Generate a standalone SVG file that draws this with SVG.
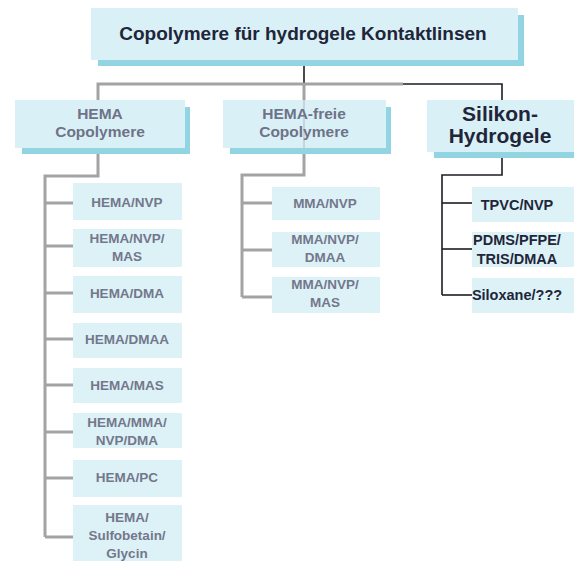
<svg xmlns="http://www.w3.org/2000/svg" width="574" height="561" viewBox="0 0 574 561">
<style>
.box{fill:#d9f1f6}
.leaf{fill:#dcf2f7}
.shadow{fill:#93d4e2}
.g{stroke:#a3a3a6;stroke-width:3;fill:none}
.k{stroke:#1c1c24;stroke-width:1.6;fill:none}
text{font-family:"Liberation Sans",Arial,sans-serif;font-weight:bold;text-anchor:middle}
.title{font-size:19px;fill:#22253a}
.h2{font-size:21px;fill:#22253a}
.h2f{font-size:15.5px;fill:#6f7288}
.lf{font-size:13.5px;fill:#74778c}
.ls{font-size:14.5px;fill:#22253a}
</style>
<rect width="574" height="561" fill="#ffffff"/>
<g id="connectors">
<line class="k" x1="304" y1="60" x2="304" y2="84"/>
<polyline class="g" points="98,101 98,84 403,84"/>
<polyline class="k" points="403,84 502,84 502,101"/>
<line class="g" x1="304" y1="84" x2="304" y2="101"/>
<polyline class="g" points="98,148 98,176 45,176 45,537"/>
<line class="g" x1="45" y1="203" x2="73" y2="203"/>
<line class="g" x1="45" y1="246" x2="73" y2="246"/>
<line class="g" x1="45" y1="293" x2="73" y2="293"/>
<line class="g" x1="45" y1="339" x2="73" y2="339"/>
<line class="g" x1="45" y1="385" x2="73" y2="385"/>
<line class="g" x1="45" y1="432" x2="73" y2="432"/>
<line class="g" x1="45" y1="478" x2="73" y2="478"/>
<line class="g" x1="45" y1="537" x2="73" y2="537"/>
<polyline class="g" points="304,148 304,175 242,175 242,297"/>
<line class="g" x1="242" y1="203" x2="272" y2="203"/>
<line class="g" x1="242" y1="250" x2="272" y2="250"/>
<line class="g" x1="242" y1="297" x2="272" y2="297"/>
<polyline class="k" points="502,153 502,175 442,175 442,295"/>
<line class="k" x1="442" y1="203" x2="472" y2="203"/>
<line class="k" x1="442" y1="249" x2="472" y2="249"/>
<line class="k" x1="442" y1="295" x2="472" y2="295"/>
</g>
<g id="title">
<rect class="shadow" x="98" y="15" width="426" height="51"/>
<rect class="box" x="91" y="8" width="427" height="52"/>
<text class="title" x="303" y="40">Copolymere für hydrogele Kontaktlinsen</text>
</g>
<g id="hema">
<rect class="shadow" x="22" y="107" width="168" height="47"/>
<rect class="box" x="15" y="100" width="170" height="48"/>
<text class="h2f" x="100" y="119">HEMA</text>
<text class="h2f" x="100" y="137">Copolymere</text>
</g>
<g id="hemafrei">
<rect class="shadow" x="230" y="107" width="161" height="47"/>
<rect class="box" x="223" y="100" width="163" height="48"/>
<line x1="304" y1="100" x2="304" y2="148" stroke="#a3a3a6" stroke-width="2" opacity="0.35"/>
<text class="h2f" x="304" y="119">HEMA-freie</text>
<text class="h2f" x="304" y="137">Copolymere</text>
</g>
<g id="silikon">
<rect class="shadow" x="434" y="107" width="140" height="51"/>
<rect class="box" x="427" y="100" width="147" height="52"/>
<text class="h2" x="500" y="121">Silikon-</text>
<text class="h2" x="500" y="143">Hydrogele</text>
</g>
<g id="l1"><rect class="leaf" x="73" y="183" width="109" height="37"/><text class="lf" x="127" y="207">HEMA/NVP</text></g>
<g id="l2"><rect class="leaf" x="73" y="229" width="109" height="38"/><text class="lf" x="127" y="243">HEMA/NVP/</text><text class="lf" x="127" y="261">MAS</text></g>
<g id="l3"><rect class="leaf" x="73" y="276" width="109" height="37"/><text class="lf" x="127" y="298">HEMA/DMA</text></g>
<g id="l4"><rect class="leaf" x="73" y="323" width="109" height="35"/><text class="lf" x="127" y="344">HEMA/DMAA</text></g>
<g id="l5"><rect class="leaf" x="73" y="368" width="109" height="35"/><text class="lf" x="127" y="390">HEMA/MAS</text></g>
<g id="l6"><rect class="leaf" x="73" y="413" width="109" height="35"/><text class="lf" x="127" y="427">HEMA/MMA/</text><text class="lf" x="127" y="445">NVP/DMA</text></g>
<g id="l7"><rect class="leaf" x="73" y="460" width="109" height="37"/><text class="lf" x="127" y="482">HEMA/PC</text></g>
<g id="l8"><rect class="leaf" x="73" y="505" width="109" height="56"/><text class="lf" x="127" y="522">HEMA/</text><text class="lf" x="127" y="540">Sulfobetain/</text><text class="lf" x="127" y="558">Glycin</text></g>
<g id="m1"><rect class="leaf" x="272" y="187" width="108" height="33"/><text class="lf" x="325" y="208">MMA/NVP</text></g>
<g id="m2"><rect class="leaf" x="272" y="232" width="108" height="35"/><text class="lf" x="325" y="244">MMA/NVP/</text><text class="lf" x="325" y="262">DMAA</text></g>
<g id="m3"><rect class="leaf" x="272" y="277" width="108" height="36"/><text class="lf" x="325" y="289">MMA/NVP/</text><text class="lf" x="325" y="307">MAS</text></g>
<g id="s1"><rect class="leaf" x="472" y="187" width="102" height="35"/><text class="ls" x="517" y="210">TPVC/NVP</text></g>
<g id="s2"><rect class="leaf" x="472" y="232" width="102" height="35"/><text class="ls" x="517" y="245">PDMS/PFPE/</text><text class="ls" x="517" y="264">TRIS/DMAA</text></g>
<g id="s3"><rect class="leaf" x="472" y="278" width="102" height="35"/><text class="ls" x="517" y="300">Siloxane/???</text></g>
</svg>
